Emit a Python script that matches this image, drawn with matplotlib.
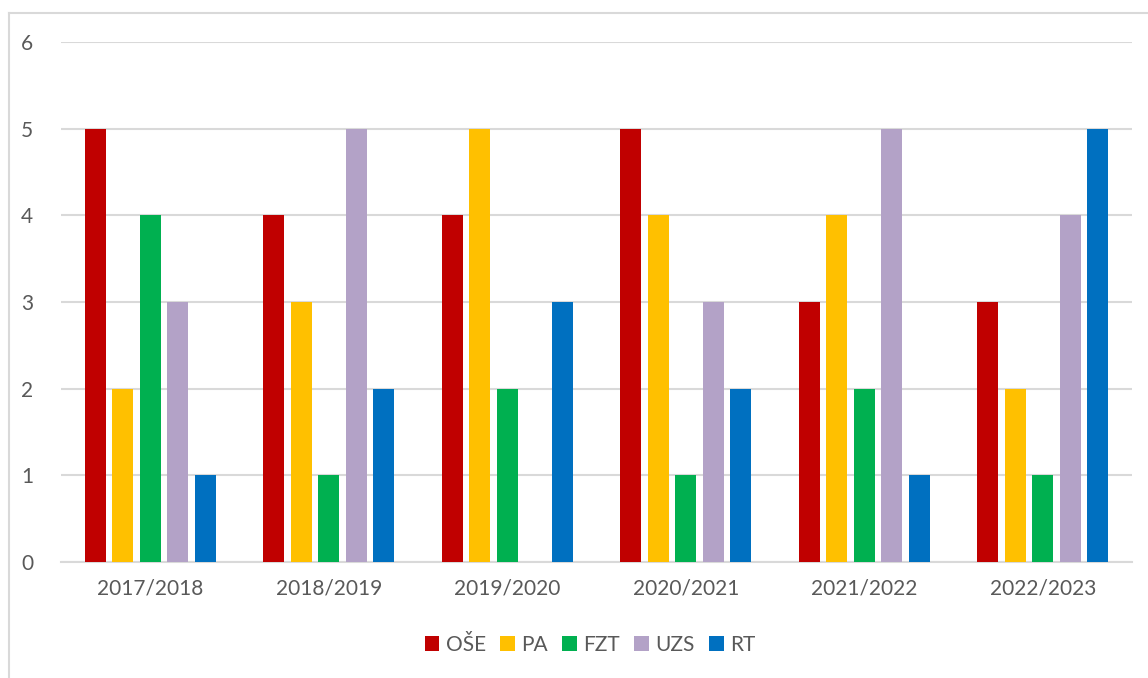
import matplotlib
matplotlib.use("Agg")
import matplotlib.pyplot as plt
import numpy as np
from matplotlib.lines import Line2D

categories = ["2017/2018", "2018/2019", "2019/2020", "2020/2021", "2021/2022", "2022/2023"]
series_names = ["OŠE", "PA", "FZT", "UZS", "RT"]
ose = [5, 4, 4, 5, 3, 3]
pa = [2, 3, 5, 4, 4, 2]
fzt = [4, 1, 2, 1, 2, 1]
uzs = [3, 5, 0, 3, 5, 4]
rt = [1, 2, 3, 2, 1, 5]
colors = ["#C00000", "#FFC000", "#00B050", "#B3A2C7", "#0070C0"]
yticks = [0, 1, 2, 3, 4, 5, 6]

plt.rcParams["font.family"] = ["Lato", "DejaVu Sans"]
W, H = 1148, 678
fig = plt.figure(figsize=(W / 100, H / 100), dpi=100)
ax = fig.add_axes([61 / W, 1 - 562 / H, (1132 - 61) / W, (562 - 42) / H])

x = np.arange(len(categories))
width = 0.118
step = 0.1535
all_series = [ose, pa, fzt, uzs, rt]
for i, (name, vals, c) in enumerate(zip(series_names, all_series, colors)):
    ax.bar(x + (i - 2) * step, vals, width, color=c, label=name, zorder=3)

ax.set_xlim(-0.5, len(categories) - 0.5)
ax.set_ylim(0, 6)
ax.set_yticks(yticks)
ax.set_xticks(x)
ax.set_xticklabels(categories)
ax.yaxis.grid(True, color="#D9D9D9", linewidth=1.5, zorder=0)
for s in ["top", "right", "left"]:
    ax.spines[s].set_visible(False)
ax.spines["bottom"].set_color("#D9D9D9")
ax.spines["bottom"].set_linewidth(1.5)
ax.tick_params(axis="both", length=0, colors="#595959", labelsize=15)
ax.tick_params(axis="y", pad=20)
ax.tick_params(axis="x", pad=12)

leg = fig.legend(loc="center", bbox_to_anchor=(590 / W, 1 - 645 / H), ncol=5, frameon=False,
                 fontsize=15, handlelength=0.7, handleheight=0.7, handletextpad=0.3,
                 columnspacing=0.7, labelcolor="#595959")

# outer frame (left and top edges visible)
fig.add_artist(Line2D([9 / W, 9 / W], [0, 1 - 13 / H], color="#D9D9D9", linewidth=1.5))
fig.add_artist(Line2D([9 / W, 1], [1 - 13 / H, 1 - 13 / H], color="#D9D9D9", linewidth=1.5))

fig.savefig("out.png", dpi=100)
